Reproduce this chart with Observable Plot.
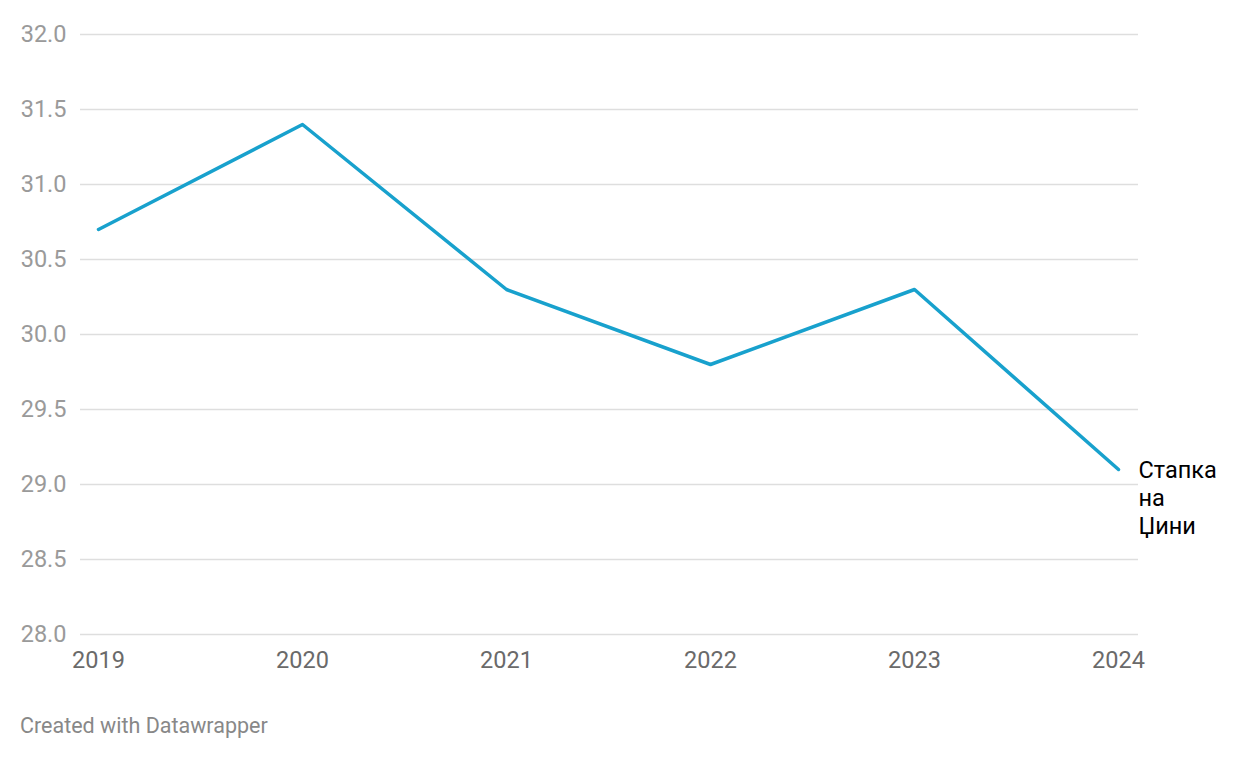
<!DOCTYPE html>
<html><head><meta charset="utf-8">
<script src="https://cdn.jsdelivr.net/npm/d3@7"></script>
<script src="https://cdn.jsdelivr.net/npm/@observablehq/plot@0.6"></script>
<style>
body{margin:0;background:#fff;font-family:Roboto,sans-serif}
#chart{position:absolute;left:0;top:0}
#caption{position:absolute;left:20px;top:715px;font-size:21.5px;line-height:21px;color:#888;font-family:Roboto,sans-serif}
</style></head>
<body>
<div id="chart"></div>
<div id="caption">Created with Datawrapper</div>
<script>
const years = [2019, 2020, 2021, 2022, 2023, 2024];
const values = [30.7, 31.4, 30.3, 29.8, 30.3, 29.1];
const yTicks = [28, 28.5, 29, 29.5, 30, 30.5, 31, 31.5, 32];
const seriesLabel = "Стапка\nна\nЏини";

const data = years.map((y, i) => ({year: y, value: values[i]}));
const last = [data[data.length - 1]];

const chart = Plot.plot({
  width: 1240,
  height: 700,
  marginTop: 34,
  marginBottom: 66,
  marginLeft: 80,
  marginRight: 102,
  style: {fontFamily: "Roboto, sans-serif", fontSize: "23.5px", background: "transparent", overflow: "visible"},
  x: {domain: [2019, 2024], insetLeft: 18, insetRight: 20, label: null},
  y: {domain: [28, 32], label: null},
  marks: [
    Plot.gridY(yTicks, {stroke: "#dedede", strokeOpacity: 1, strokeWidth: 1.3}),
    Plot.axisY(yTicks, {tickSize: 0, tickPadding: 14, fill: "#9a9a9a", tickFormat: d => d.toFixed(1), label: null, fontSize: 23.5}),
    Plot.axisX(years, {tickSize: 0, tickPadding: 17, fill: "#6a6a6a", tickFormat: d => String(d), label: null, fontSize: 23.5}),
    Plot.line(data, {x: "year", y: "value", stroke: "#18a1cd", strokeWidth: 3.5}),
    Plot.text(last, {x: "year", y: "value", text: () => seriesLabel, textAnchor: "start", lineAnchor: "top", dx: 20, dy: -11, lineHeight: 1.19, fill: "#000", fontSize: 23.5})
  ]
});
document.getElementById("chart").appendChild(chart);
</script>
</body></html>
